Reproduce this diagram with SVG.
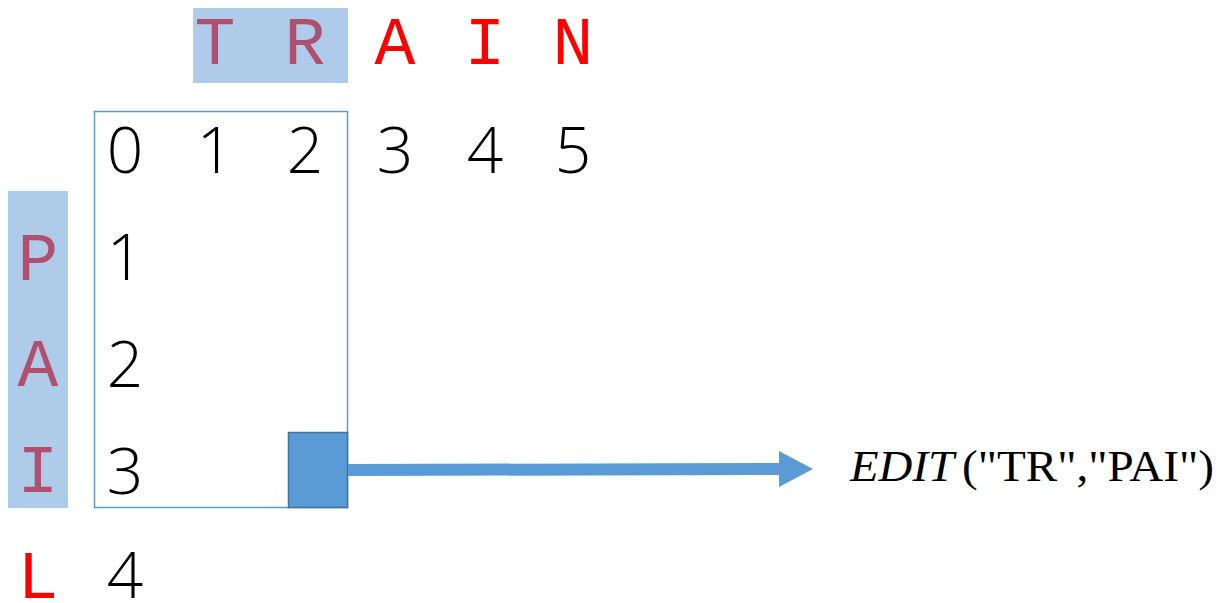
<svg xmlns="http://www.w3.org/2000/svg" width="1219" height="603" viewBox="0 0 1219 603">
  <defs>
    <style>
      .letter { font-family: "Liberation Mono", "Courier New", monospace; font-size: 68px; text-anchor: middle; }
      .hl { fill: #b0506e; }
      .red { fill: #ff0000; }
      .num { font-family: "Open Sans", "DejaVu Sans", sans-serif; font-weight: 300; font-size: 64px; fill: #000; text-anchor: middle; }
      .band { fill: #aecce9; }
      .formula { font-family: "Liberation Serif", "Times New Roman", serif; font-size: 44px; fill: #000; }
    </style>
    <marker id="head" viewBox="0 0 34 36" refX="0" refY="18" markerWidth="34" markerHeight="36" markerUnits="userSpaceOnUse" orient="auto">
      <path d="M0,0 L34,18 L0,36 Z" fill="#5b9bd5"/>
    </marker>
  </defs>

  <!-- highlight bands for the prefixes "TR" and "PAI" -->
  <g id="band-top">
    <rect class="band" x="193" y="8" width="155" height="75"/>
  </g>
  <g id="band-left">
    <rect class="band" x="8" y="191" width="60" height="317"/>
  </g>

  <!-- column string -->
  <g id="train">
    <text class="letter hl" x="215" y="64">T</text>
    <text class="letter hl" x="305" y="64">R</text>
    <text class="letter red" x="395" y="64">A</text>
    <text class="letter red" x="485" y="64">I</text>
    <text class="letter red" x="573" y="64">N</text>
  </g>

  <!-- row string -->
  <g id="pail">
    <text class="letter hl" x="38" y="280">P</text>
    <text class="letter hl" x="38" y="386">A</text>
    <text class="letter hl" x="38" y="492">I</text>
    <text class="letter red" x="38" y="598">L</text>
  </g>

  <!-- subproblem frame -->
  <g id="frame">
    <rect x="94.5" y="111.5" width="253" height="396" fill="none" stroke="#5b9bd5" stroke-width="1.5"/>
  </g>

  <!-- index numbers -->
  <g id="col-index">
    <text class="num" x="125" y="173">0</text>
    <text class="num" x="215" y="173">1</text>
    <text class="num" x="305" y="173">2</text>
    <text class="num" x="395" y="173">3</text>
    <text class="num" x="485" y="173">4</text>
    <text class="num" x="573" y="173">5</text>
  </g>
  <g id="row-index">
    <text class="num" x="125" y="280">1</text>
    <text class="num" x="125" y="387">2</text>
    <text class="num" x="125" y="494">3</text>
    <text class="num" x="125" y="598">4</text>
  </g>

  <!-- target cell -->
  <g id="cell">
    <rect x="288.5" y="432.5" width="59" height="75" fill="#5b9bd5" stroke="#41719c" stroke-width="1.5"/>
  </g>

  <!-- connector -->
  <g id="connectors">
    <line x1="348" y1="470" x2="779" y2="469" stroke="#5b9bd5" stroke-width="12" marker-end="url(#head)"/>
  </g>

  <!-- result label -->
  <g id="label">
    <text class="formula" x="850" y="481"><tspan font-style="italic" textLength="104" lengthAdjust="spacingAndGlyphs">EDIT</tspan><tspan dx="8" textLength="252" lengthAdjust="spacingAndGlyphs">("TR","PAI")</tspan></text>
  </g>
</svg>
